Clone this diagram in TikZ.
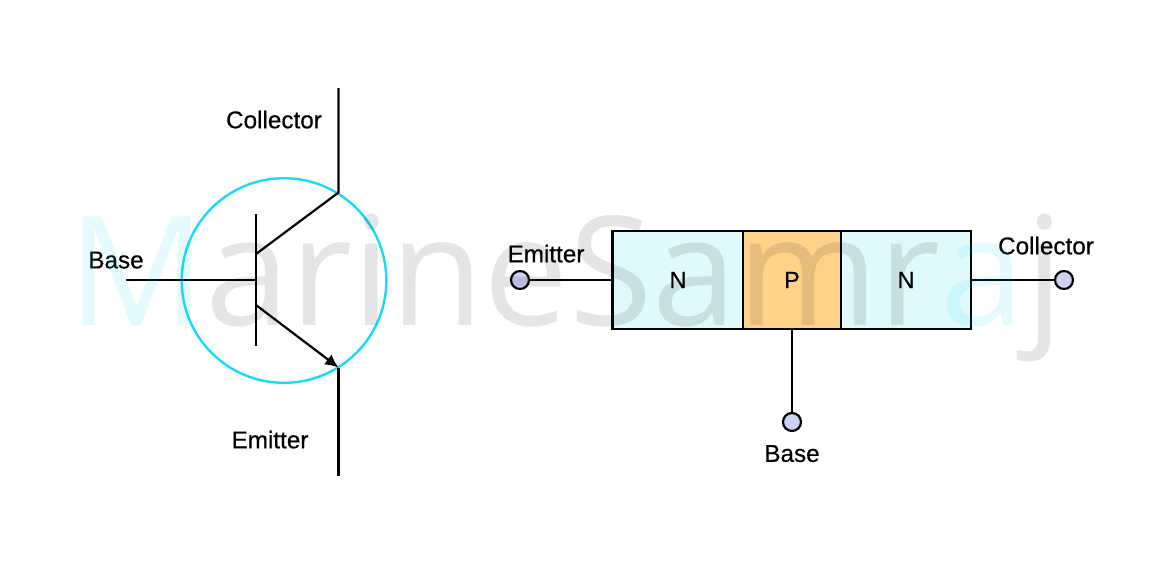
\documentclass[tikz,border=0pt]{standalone}
\usepackage{fontspec}
\usetikzlibrary{arrows.meta}
\setmainfont{Liberation Sans}
\newfontfamily\lblfont[FakeBold=0.4]{Liberation Sans}
\newfontfamily\wmfont{Open Sans}
\definecolor{wcyan}{HTML}{00D5FF}
\definecolor{ringc}{HTML}{1CD9F5}
\definecolor{nfill}{HTML}{E0F9FC}
\definecolor{pfill}{HTML}{FFD28A}
\definecolor{termc}{HTML}{D0D2F5}
\tikzset{
 wire/.style={draw=black,line width=1.65pt},
 lbl/.style={font=\lblfont\fontsize{18.2}{20}\selectfont,text=black,inner sep=0pt,text depth=0pt},
 region/.style={draw=black,line width=1.65pt,inner sep=0pt},
 term/.style={circle,draw=black,line width=1.65pt,fill=termc,minimum size=13.5pt,inner sep=0pt},
 reglbl/.style={font=\lblfont\fontsize{17.5}{20}\selectfont,text=black,inner sep=0pt}
}
\begin{document}
\begin{tikzpicture}[x=0.75pt,y=-0.75pt]
\useasboundingbox (0,0) rectangle (1176,576);
\fill[white] (0,0) rectangle (1176,576);
% symbol
\node[circle,draw=ringc,line width=1.8pt,minimum size=153.5pt,inner sep=0pt] (ring) at (284,280.5) {};
\coordinate (bt) at (256,214);
\coordinate (bb) at (256,346);
\coordinate (bm) at (256,280);
\coordinate (bl) at (126,280);
\coordinate (cj) at (338.5,192.5);
\coordinate (ct) at (338.5,88);
\coordinate (cb) at (256,254);
\coordinate (ej) at (338.5,367.5);
\coordinate (eb) at (256,305);
\coordinate (ee) at (338.5,476);
\draw[wire] (bt) -- (bb);
\draw[wire] (bl) -- (bm);
\draw[wire] (ct) -- (cj) -- (cb);
\draw[wire] (ee) -- (ej);
\draw[wire,-{Latex[length=10pt,width=9.5pt]}] (eb) -- (ej);
\node[lbl] (lc) at (274,119.5) {Collector};
\node[lbl] (lb) at (116,260) {Base};
\node[lbl] (le) at (270,439.5) {Emitter};
% blocks
\node[region,fill=nfill,minimum width=98.25pt,minimum height=73.5pt] (n1) at (678,280) {};
\node[region,fill=pfill,minimum width=73.5pt,minimum height=73.5pt] (p) at (792,280) {};
\node[region,fill=nfill,minimum width=97.5pt,minimum height=73.5pt] (n2) at (906,280) {};
\node[reglbl] at (n1) {N};
\node[reglbl] at (p) {P};
\node[reglbl] at (n2) {N};
\node[term] (te) at (520,280) {};
\node[term] (tc) at (1064,280) {};
\node[term] (tb) at (792,422) {};
\draw[wire] (te) -- (n1);
\draw[wire] (n2) -- (tc);
\draw[wire] (p) -- (tb);
\node[lbl] (re) at (546,253.5) {Emitter};
\node[lbl] (rc) at (1046,245.5) {Collector};
\node[lbl] (rb) at (792,453.5) {Base};
% watermark
\node[anchor=base west,inner sep=0pt,text opacity=0.1,font=\wmfont\fontsize{114}{130}\selectfont] (wm) at (68,325)
 {\textcolor{wcyan}{M}arineSamr\textcolor{wcyan}{a}j};
\end{tikzpicture}
\end{document}
